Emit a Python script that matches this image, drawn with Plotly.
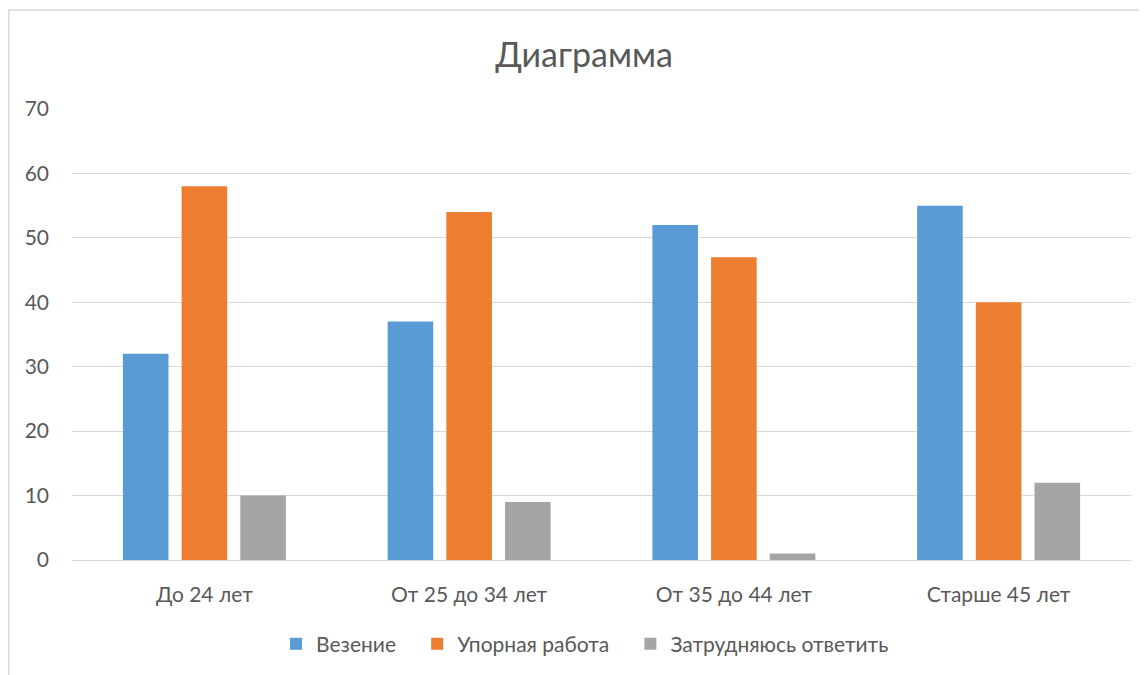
import plotly.graph_objects as go

categories = ["До 24 лет", "От 25 до 34 лет", "От 35 до 44 лет", "Старше 45 лет"]
series_names = ["Везение", "Упорная работа", "Затрудняюсь ответить"]
luck = [32, 37, 52, 55]
hard_work = [58, 54, 47, 40]
hard_to_say = [10, 9, 1, 12]
colors = ["#5B9BD5", "#ED7D31", "#A5A5A5"]
y_ticks = [0, 10, 20, 30, 40, 50, 60, 70]

FONT = "Lato, 'Open Sans', sans-serif"
TXT = "#595959"
PAD = "\u00a0" * 3

fig = go.Figure()
for name, vals, col in zip(series_names, [luck, hard_work, hard_to_say], colors):
    fig.add_trace(go.Bar(x=categories, y=vals, name=name + PAD, marker_color=col,
                         marker_line_width=0))

# page body has 8px margin -> figure coords = reference coords - 8
W, H = 1139, 667
L, R, T, B = 64, 1123, 101, 552
pw, ph = R - L, B - T

fig.update_layout(
    width=W, height=H,
    margin=dict(l=L, r=W - R, t=T, b=H - B, autoexpand=False),
    paper_bgcolor="white", plot_bgcolor="white",
    barmode="group", bargap=0.335, bargroupgap=0.223,
    font=dict(family=FONT, color=TXT, size=21),
    title=dict(text="Диаграмма", x=576 / W, xref="container", xanchor="center",
               y=1 - 47 / H, yref="container", yanchor="middle",
               font=dict(family=FONT, size=34, color=TXT)),
    legend=dict(orientation="h", xref="container", x=585 / W, xanchor="center",
                yref="container", y=1 - 636 / H, yanchor="middle",
                font=dict(family=FONT, size=21, color=TXT),
                itemwidth=30, traceorder="normal"),
    showlegend=True,
)
fig.update_yaxes(range=[0, 70], tickvals=y_ticks, showgrid=True, gridcolor="#D9D9D9",
                 gridwidth=1.3, zeroline=False, showline=False, ticks="",
                 ticklabelstandoff=22, tickfont=dict(size=21, color=TXT))
fig.update_xaxes(showgrid=False, showline=True, linecolor="#D9D9D9", linewidth=1.3,
                 ticks="", ticklabelstandoff=16, tickfont=dict(size=21, color=TXT))

# chart border (left and top edges)
fig.add_shape(type="line", xref="paper", yref="paper",
              x0=(0.8 - L) / pw, x1=(0.8 - L) / pw, y0=(B - 2) / ph, y1=(B - 700) / ph,
              line=dict(color="#D9D9D9", width=1.5))
fig.add_shape(type="line", xref="paper", yref="paper",
              x0=(0 - L) / pw, x1=(1150 - L) / pw, y0=(B - 2) / ph, y1=(B - 2) / ph,
              line=dict(color="#D9D9D9", width=1.5))

fig.write_html("out.html")
